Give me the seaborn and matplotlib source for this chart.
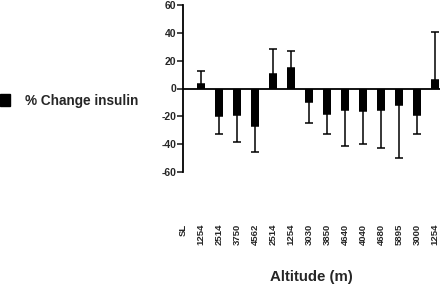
import numpy as np
import pandas as pd
import matplotlib
matplotlib.use('Agg')
import matplotlib.pyplot as plt
import seaborn as sns
from matplotlib.patches import Patch

# altitude labels (SL = sea level baseline, no bar)
altitudes = ['SL', '1254', '2514', '3750', '4562', '2514', '1254', '3030',
             '3850', '4640', '4040', '4680', '5895', '3000', '1254']
change = [0, 3, -20, -18.7, -27, 10.5, 14.4, -9.4, -18.2, -15.1, -16.5,
          -15.3, -12.2, -19.4, 5.8]
err = [0, 9.5, 12.6, 19.9, 18.8, 18, 12.4, 15.3, 14.4, 26.4, 23.3,
       27.7, 37.8, 13.6, 34.7]

sns.set_style('white')
plt.rcParams['font.family'] = ['Liberation Sans', 'DejaVu Sans']
plt.rcParams['font.weight'] = 'bold'
plt.rcParams['axes.unicode_minus'] = False

df = pd.DataFrame({'pos': np.arange(len(altitudes)), 'change': change})

fig = plt.figure(figsize=(4.4, 2.85), dpi=100)
ax = fig.add_axes([183/440, 1 - 172/285, 1 - 183/440, 167/285])

sns.barplot(data=df, x='pos', y='change', color='black', width=0.48,
            saturation=1, edgecolor='black', linewidth=0, ax=ax, zorder=3)

# one-sided error bars (away from zero)
lower = [e if v < 0 else 0 for v, e in zip(change, err)]
upper = [e if v > 0 else 0 for v, e in zip(change, err)]
mask = [e > 0 for e in err]
xs = df['pos'][mask]
ax.errorbar(xs, np.array(change)[mask],
            yerr=[np.array(lower)[mask], np.array(upper)[mask]],
            fmt='none', ecolor='black', elinewidth=1.1, capsize=2.8,
            capthick=1.1, zorder=2)

ax.axhline(0, color='black', lw=1.3, zorder=4)
ax.set_ylim(-60, 60)
ax.set_xlim(0, 14.28)
ax.set_yticks(range(-60, 61, 20))
ax.tick_params(axis='y', left=True, length=4, width=1.2, labelsize=7.5, pad=1)
ax.tick_params(axis='x', bottom=False, labelsize=6.8, pad=34)
ax.set_xticks(df['pos'])
ax.set_xticklabels(altitudes, rotation=90, fontweight='bold')
for t in ax.get_yticklabels():
    t.set_fontweight('bold')

for s in ['top', 'right', 'bottom']:
    ax.spines[s].set_visible(False)
ax.spines['left'].set_color('black')
ax.spines['left'].set_linewidth(1.3)

ax.set_ylabel('')
ax.set_xlabel('Altitude (m)', fontsize=10.8, fontweight='bold')
ax.xaxis.set_label_coords(0.5, (172 - 277) / 167)
ax.xaxis.label.set_va('center')

fig.legend(handles=[Patch(color='black')], labels=['% Change insulin'],
           loc='center left', bbox_to_anchor=(0.0, 1 - 101/285),
           frameon=False, prop={'size': 9.8, 'weight': 'bold'},
           borderpad=0, borderaxespad=0,
           handlelength=0.75, handleheight=1.0, handletextpad=1.1)

fig.savefig('out.png', dpi=100)
